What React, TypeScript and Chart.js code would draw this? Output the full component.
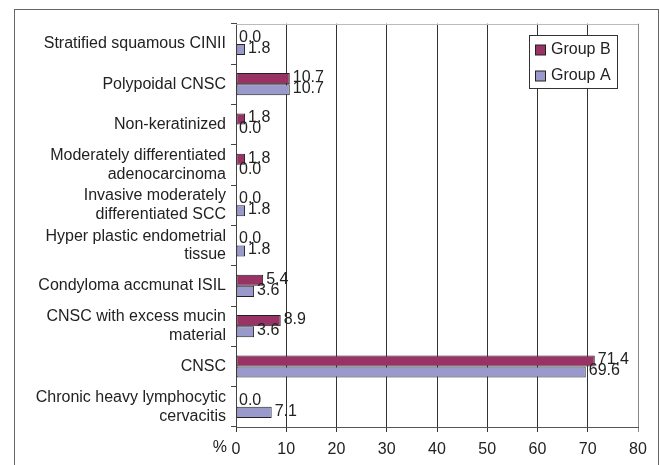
import React, { useEffect, useRef } from "react";
import { Chart, registerables } from "chart.js";

Chart.register(...registerables);

const categories: (string | string[])[] = [
  "Stratified squamous CINII",
  "Polypoidal CNSC",
  "Non-keratinized",
  ["Moderately differentiated", "adenocarcinoma"],
  ["Invasive moderately", "differentiated SCC"],
  ["Hyper plastic endometrial", "tissue"],
  "Condyloma accmunat ISIL",
  ["CNSC with excess mucin", "material"],
  "CNSC",
  ["Chronic heavy lymphocytic", "cervacitis"],
];

const groupB = [0.0, 10.7, 1.8, 1.8, 0.0, 0.0, 5.4, 8.9, 71.4, 0.0];
const groupA = [1.8, 10.7, 0.0, 0.0, 1.8, 1.8, 3.6, 3.6, 69.6, 7.1];

const xTicks = [0, 10, 20, 30, 40, 50, 60, 70, 80];

const FONT = "'Liberation Sans', Arial, sans-serif";
const colorB = "#993366";
const colorA = "#9999CC";

const valueLabels = {
  id: "valueLabels",
  afterDatasetsDraw(chart: any) {
    const ctx = chart.ctx;
    ctx.save();
    ctx.font = `16px ${FONT}`;
    ctx.fillStyle = "#222";
    ctx.textAlign = "left";
    ctx.textBaseline = "middle";
    chart.data.datasets.forEach((ds: any, di: number) => {
      const meta = chart.getDatasetMeta(di);
      meta.data.forEach((el: any, i: number) => {
        const v = ds.data[i] as number;
        ctx.fillText(v.toFixed(1), el.x + 3, el.y - 1);
      });
    });
    ctx.restore();
  },
};

const decorations = {
  id: "decorations",
  beforeDatasetsDraw(chart: any) {
    const { ctx, chartArea } = chart;
    ctx.save();
    ctx.strokeStyle = "#bbb";
    ctx.lineWidth = 1;
    ctx.beginPath();
    ctx.moveTo(chartArea.left, Math.round(chartArea.top) + 0.5);
    ctx.lineTo(chartArea.right, Math.round(chartArea.top) + 0.5);
    ctx.stroke();
    ctx.restore();
  },
  afterDraw(chart: any) {
    const { ctx, chartArea } = chart;
    ctx.save();
    // outer frame
    ctx.strokeStyle = "#666";
    ctx.lineWidth = 1;
    ctx.strokeRect(14.5, 9.5, 644, 480);
    // percent sign
    ctx.font = `16px ${FONT}`;
    ctx.fillStyle = "#222";
    ctx.textAlign = "right";
    ctx.textBaseline = "middle";
    ctx.fillText("%", chartArea.left - 9, 448);
    // legend
    const lx = 529.5, ly = 35.5, lw = 88, lh = 53;
    ctx.fillStyle = "#fff";
    ctx.fillRect(lx, ly, lw, lh);
    ctx.strokeStyle = "#333";
    ctx.strokeRect(lx, ly, lw, lh);
    const items = [
      { label: "Group B", color: colorB, y: 50 },
      { label: "Group A", color: colorA, y: 76 },
    ];
    items.forEach((it) => {
      ctx.fillStyle = it.color;
      ctx.fillRect(535.5, it.y - 5, 10, 10);
      ctx.strokeStyle = "#222";
      ctx.strokeRect(535.5, it.y - 5, 10, 10);
      ctx.fillStyle = "#222";
      ctx.textAlign = "left";
      ctx.textBaseline = "middle";
      ctx.fillText(it.label, 551, it.y);
    });
    ctx.restore();
  },
};

export default function App() {
  const ref = useRef<HTMLCanvasElement | null>(null);
  useEffect(() => {
    if (!ref.current) return;
    const chart = new Chart(ref.current, {
      type: "bar",
      data: {
        labels: categories,
        datasets: [
          {
            label: "Group B",
            data: groupB,
            backgroundColor: colorB,
            borderColor: "#222",
            borderWidth: 1,
            borderSkipped: false,
            categoryPercentage: 0.55,
            barPercentage: 1,
          },
          {
            label: "Group A",
            data: groupA,
            backgroundColor: colorA,
            borderColor: "#222",
            borderWidth: 1,
            borderSkipped: false,
            categoryPercentage: 0.55,
            barPercentage: 1,
          },
        ],
      },
      options: {
        indexAxis: "y",
        responsive: false,
        animation: false,
        layout: { padding: { top: 22, right: 22, left: 0, bottom: 0 } },
        plugins: {
          legend: { display: false },
          tooltip: { enabled: false },
          title: { display: false },
        },
        scales: {
          x: {
            min: 0,
            max: 80,
            afterBuildTicks(scale: any) {
              scale.ticks = xTicks.map((v) => ({ value: v }));
            },
            afterFit(scale: any) {
              scale.height = 38;
            },
            grid: {
              color: (c: any) => (c.index === xTicks.length - 1 ? "#888" : "#333"),
              lineWidth: 1,
              tickLength: 5,
              drawTicks: true,
            },
            border: { color: "#555", width: 1 },
            ticks: {
              font: { family: FONT, size: 16 },
              color: "#222",
              padding: 8,
              maxRotation: 0,
            },
          },
          y: {
            afterFit(scale: any) {
              scale.width = 236;
            },
            grid: {
              drawOnChartArea: false,
              drawTicks: true,
              tickLength: 5,
              color: "#444",
              offset: true,
            },
            border: { color: "#444", width: 1 },
            ticks: {
              font: { family: FONT, size: 16, lineHeight: 1.17 },
              color: "#222",
              padding: 5,
              autoSkip: false,
            },
          },
        },
      },
      plugins: [decorations, valueLabels],
    });
    return () => chart.destroy();
  }, []);
  return (
    <div style={{ position: "fixed", left: 0, top: 0, width: 660, height: 465, background: "#fff" }}>
      <canvas ref={ref} width={660} height={465} style={{ display: "block" }} />
    </div>
  );
}
